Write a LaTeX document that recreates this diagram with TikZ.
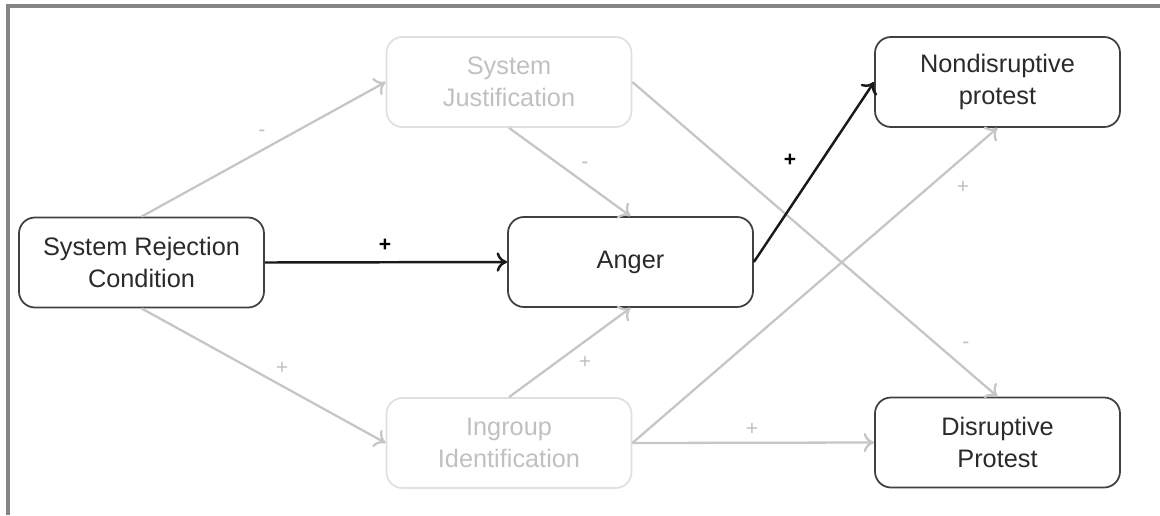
\documentclass[tikz,border=0pt]{standalone}
\usepackage{fontspec}
\setmainfont{Liberation Sans}
\usetikzlibrary{arrows.meta}
\definecolor{boxline}{HTML}{404040}
\definecolor{boxtext}{HTML}{2A2A2A}
\definecolor{fadeline}{HTML}{E0E0E0}
\definecolor{fadetext}{HTML}{C0C0C0}
\definecolor{fadearrow}{HTML}{C6C6C6}
\definecolor{framegray}{HTML}{858585}

\begin{document}
\begin{tikzpicture}[>={To[length=6pt,width=11pt]},
  var/.style={draw=boxline, text=boxtext, line width=1pt, rounded corners=0.32cm,
    minimum width=4.9cm, minimum height=1.8cm, align=center,
    font=\fontsize{14.4}{18}\selectfont},
  fadevar/.style={var, draw=fadeline, text=fadetext},
  mainpath/.style={->, line width=1.4pt, color=black!90},
  fadepath/.style={->, line width=1.3pt, color=fadearrow},
  sign/.style={font=\fontsize{12}{14}\selectfont\bfseries, text=black},
  fadesign/.style={sign, font=\fontsize{12}{14}\selectfont, text=fadetext}]
\useasboundingbox (0,0) rectangle (23.2,-10.3);
\draw[framegray, line width=2pt] (0.16,-10.3) -- (0.16,-0.12) -- (23.2,-0.12);

\node[var] (src) at (2.83,-5.25) {System Rejection\\Condition};
\node[fadevar] (sj) at (10.18,-1.64) {System\\Justification};
\node[var] (anger) at (12.61,-5.24) {Anger};
\node[var] (np) at (19.95,-1.64) {Nondisruptive\\protest};
\node[fadevar] (ii) at (10.18,-8.86) {Ingroup\\Identification};
\node[var] (dp) at (19.95,-8.85) {Disruptive\\Protest};

\draw[fadepath] (src.north) -- (sj.west);
\draw[fadepath] (src.south) -- (ii.west);
\draw[fadepath] (sj.south) -- (anger.north);
\draw[fadepath] (sj.east) -- (dp.north);
\draw[fadepath] (ii.north) -- (anger.south);
\draw[fadepath] (ii.east) -- (np.south);
\draw[fadepath] (ii.east) -- (dp.west);
\draw[mainpath] (src.east) -- (anger.west);
\draw[mainpath] (anger.east) -- (np.west);

\node[fadesign] at (5.24,-2.66) {-};
\node[fadesign] at (5.64,-7.36) {+};
\node[fadesign] at (11.7,-3.3) {-};
\node[fadesign] at (11.7,-7.24) {+};
\node[fadesign] at (19.32,-6.9) {-};
\node[fadesign] at (19.26,-3.74) {+};
\node[fadesign] at (15.04,-8.58) {+};
\node[sign] at (7.7,-4.9) {+};
\node[sign] at (15.8,-3.2) {+};
\end{tikzpicture}
\end{document}
